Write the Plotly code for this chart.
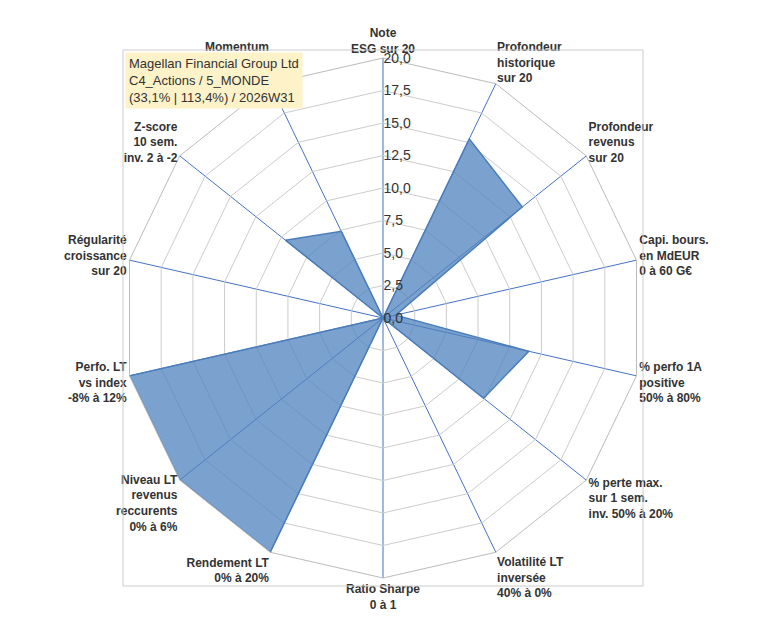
import plotly.graph_objects as go

categories = ["<b>Note<br>ESG sur 20</b>", "<b>Profondeur<br>historique<br>sur 20</b>", "<b>Profondeur<br>revenus<br>sur 20</b>",
              "<b>Capi. bours.<br>en MdEUR<br>0 à 60 G€</b>", "<b>% perfo 1A<br>positive<br>50% à 80%</b>",
              "<b>% perte max.<br>sur 1 sem.<br>inv. 50% à 20%</b>", "<b>Volatilité LT<br>inversée<br>40% à 0%</b>",
              "<b>Ratio Sharpe<br>0 à 1</b>", "<b>Rendement LT<br>0% à 20%</b>",
              "<b>Niveau LT<br>revenus<br>reccurents<br>0% à 6%</b>", "<b>Perfo. LT<br>vs index<br>-8% à 12%</b>",
              "<b>Régularité<br>croissance<br>sur 20</b>", "<b>Z-score<br>10 sem.<br>inv. 2 à -2</b>",
              "<b>Momentum<br>Achat (20) /<br>Vente (0)</b>"]
values = [0, 15.3, 13.7, 1.0, 11.5, 9.9, 0, 0, 20, 20, 20, 0, 9.6, 7.4]

fig = go.Figure(go.Scatterpolar(
    r=values + values[:1], theta=categories + categories[:1], fill="toself",
    fillcolor="rgba(79,129,189,0.75)", line=dict(color="#4a7ebb", width=1.5),
    mode="lines", showlegend=False))

fig.update_layout(
    width=760, height=633, paper_bgcolor="white", separators=", ",
    font=dict(family="Liberation Sans, Arial", size=12, color="#333"),
    margin=dict(l=115, r=125, t=42, b=55),
    polar=dict(
        gridshape="linear", bgcolor="white",
        angularaxis=dict(rotation=90, direction="clockwise", gridcolor="#4472c4",
                         linecolor="#bbb", showline=True, ticks="", tickfont=dict(size=12, color="#333")),
        radialaxis=dict(range=[0, 20], dtick=2.5, tickformat=".1f", angle=90, tickangle=90,
                        gridcolor="#ccc", showline=False, ticks="",
                        tickfont=dict(size=14, color="#333"))),
    annotations=[dict(x=0.003, y=0.997, xref="paper", yref="paper", xanchor="left", yanchor="top",
                      align="left", showarrow=False, bgcolor="#fdf2c8", borderpad=3,
                      font=dict(size=13, color="#333"),
                      text="Magellan Financial Group Ltd<br>C4_Actions / 5_MONDE<br>(33,1% | 113,4%) / 2026W31")],
    shapes=[dict(type="rect", xref="paper", yref="paper", x0=0, y0=0, x1=1, y1=1,
                 line=dict(color="#ccc", width=1))]
)
fig.write_html("out.html")
